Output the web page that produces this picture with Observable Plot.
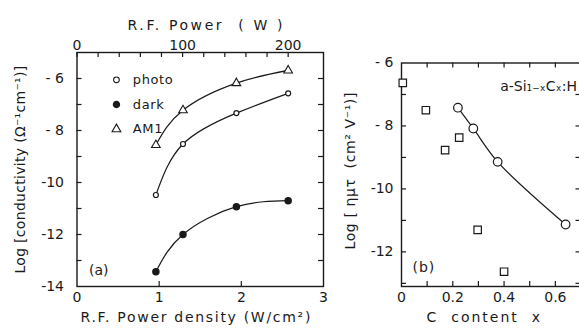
<!DOCTYPE html>
<html>
<head>
<meta charset="utf-8">
<script src="https://cdn.jsdelivr.net/npm/d3@7"></script>
<script src="https://cdn.jsdelivr.net/npm/@observablehq/plot@0.6"></script>
<style>
  html, body { margin: 0; padding: 0; background: #fff; overflow: hidden; }
  #wrap { position: relative; width: 579px; height: 331px; overflow: hidden; }
  #wrap svg { position: absolute; top: 0; }
  #panelA svg { left: 0; }
  #panelB svg { left: 335px; }
</style>
</head>
<body>
<div id="wrap"><div id="panelA"></div><div id="panelB"></div></div>
<script>
// ---- Panel (a): conductivity vs R.F. power density ----
const powerDensity = [0.96, 1.29, 1.94, 2.57];           // W/cm^2
const logPhoto = [-10.48, -8.52, -7.33, -6.57];
const logDark  = [-13.43, -12.0, -10.93, -10.7];
const logAM1   = [-8.56, -7.22, -6.18, -5.69];
const seriesNames = ["photo", "dark", "AM1"];

// top axis: R.F. power in watts (200 W corresponds to 2.57 W/cm^2)
const densityPerWatt = 2.57 / 200;
const powerTicks = [0, 20, 40, 60, 80, 100, 120, 140, 160, 180, 200];
const powerLabels = [0, 100, 200];
const densityTicks = [1, 2];
const densityLabels = [0, 1, 2, 3];
const condTicks = [-13, -12, -11, -10, -9, -8, -7, -6];
const condLabels = [-14, -12, -10, -8, -6];

// ---- Panel (b): log(eta mu tau) vs C content ----
const cContentLine = [0.22, 0.28, 0.375, 0.64];
const logEtaMuTauLine = [-7.42, -8.08, -9.14, -11.13];
const cContentSq = [0.005, 0.095, 0.17, 0.225, 0.297, 0.40];
const logEtaMuTauSq = [-6.63, -7.5, -8.77, -8.37, -11.3, -12.63];
const cTicks = [0.1, 0.2, 0.3, 0.4, 0.5, 0.6];
const cLabels = [0, 0.2, 0.4, 0.6];
const mtTicks = [-13, -12, -11, -10, -9, -8, -7];
const mtLabels = [-12, -10, -8, -6];

// titles
const titlePower = "R.F. Power  ( W )";
const titleDensity = "R.F. Power density (W/cm²)";
const titleCond = "Log [conductivity (Ω⁻¹cm⁻¹)]";
const titleC = "C  content  x";
const titleMuTau = "Log [ ημτ  (cm² V⁻¹)]";
const alloyLabel = "a-Si₁₋ₓCₓ:H";

const FONT = "'DejaVu Sans', Verdana, sans-serif";
const INK = "#1a1a1a";
const TICK = 5;
const fmtLog = d => (d > -10 ? "- " + Math.abs(d) : String(d));
const fmtC = d => (d === 0 ? "0" : d.toFixed(1));

const rows = (xs, ys) => xs.map((x, i) => ({x, y: ys[i]}));

// Short inward-pointing ticks on each side of a frame
function innerTicks(frameW, frameH, {bottom = [], top = [], left = [], right = []}) {
  const s = {stroke: INK, strokeWidth: 1.2};
  return [
    Plot.tickX(bottom, {x: d => d, insetTop: frameH - TICK, ...s}),
    Plot.tickX(top, {x: d => d, insetBottom: frameH - TICK, ...s}),
    Plot.tickY(left, {y: d => d, insetRight: frameW - TICK, ...s}),
    Plot.tickY(right, {y: d => d, insetLeft: frameW - TICK, ...s})
  ];
}

// widen the tracking of selected text labels
function track(svg, spacing) {
  d3.select(svg).selectAll("text").each(function () {
    const s = spacing[this.textContent];
    if (s != null) this.style.letterSpacing = s;
  });
}

const photo = rows(powerDensity, logPhoto);
const dark = rows(powerDensity, logDark);
const am1 = rows(powerDensity, logAM1);

const legendRows = [
  {name: seriesNames[0], y: -6.05, sym: "circle", fill: "white", r: 2.3},
  {name: seriesNames[1], y: -7.0, sym: "circle", fill: INK, r: 2.8},
  {name: seriesNames[2], y: -7.95, sym: "triangle", fill: "white", r: 3}
];

const A = {width: 335, height: 331, marginLeft: 76.5, marginRight: 12, marginTop: 52, marginBottom: 45};
const aW = A.width - A.marginLeft - A.marginRight;
const aH = A.height - A.marginTop - A.marginBottom;

const plotA = Plot.plot({
  ...A,
  style: {fontFamily: FONT, fontSize: "13px", background: "transparent", color: INK},
  x: {domain: [0, 3]},
  y: {domain: [-14, -5]},
  marks: [
    Plot.frame({stroke: INK, strokeWidth: 1.4}),
    ...innerTicks(aW, aH, {
      bottom: densityTicks,
      top: powerTicks.map(w => w * densityPerWatt),
      left: condTicks,
      right: condTicks
    }),
    Plot.axisX(densityLabels, {anchor: "bottom", tickSize: 0, tickPadding: 6, label: null, fontSize: 14}),
    Plot.axisX(powerLabels.map(w => w * densityPerWatt), {anchor: "top", tickSize: 0, tickPadding: 3, label: null, fontSize: 14,
      tickFormat: d => String(Math.round(d / densityPerWatt))}),
    Plot.axisY(condLabels, {anchor: "left", tickSize: 0, tickPadding: 13, label: null, fontSize: 14, tickFormat: fmtLog}),
    // curves
    Plot.line(photo, {x: "x", y: "y", curve: "natural", stroke: INK, strokeWidth: 1.2}),
    Plot.line(dark, {x: "x", y: "y", curve: "natural", stroke: INK, strokeWidth: 1.2}),
    Plot.line(am1, {x: "x", y: "y", curve: "natural", stroke: INK, strokeWidth: 1.2}),
    Plot.dot(photo, {x: "x", y: "y", r: 2.5, fill: "white", stroke: INK, strokeWidth: 1.2}),
    Plot.dot(dark, {x: "x", y: "y", r: 3, fill: INK, stroke: INK}),
    Plot.dot(am1, {x: "x", y: "y", symbol: "triangle", r: 3.2, fill: "white", stroke: INK, strokeWidth: 1.1}),
    // legend
    Plot.dot(legendRows, {x: 0.48, y: "y", symbol: "sym", r: "r", fill: "fill", stroke: INK, strokeWidth: 1.1}),
    Plot.text(legendRows, {x: 0.68, y: "y", text: "name", textAnchor: "start", fontSize: 13}),
    // panel tag
    Plot.text(["(a)"], {frameAnchor: "bottom-left", dx: 12, dy: -12, fontSize: 14, textAnchor: "start"}),
    // axis titles
    Plot.text([titlePower], {frameAnchor: "top", textAnchor: "middle", dx: 6, dy: -32, fontSize: 14}),
    Plot.text([titleDensity], {frameAnchor: "bottom", textAnchor: "middle", dx: -4, dy: 35, fontSize: 14}),
    Plot.text([titleCond], {frameAnchor: "left", textAnchor: "middle", dx: -56, dy: 0, rotate: -90, fontSize: 14})
  ]
});
track(plotA, {
  [titlePower]: "2.6px",
  [titleDensity]: "1.7px",
  [titleCond]: "0.3px",
  photo: "0.6px", dark: "0.6px", AM1: "0.6px"
});
document.getElementById("panelA").appendChild(plotA);

const lineB = rows(cContentLine, logEtaMuTauLine);
const squaresB = rows(cContentSq, logEtaMuTauSq);

const B = {width: 247, height: 331, marginLeft: 66, marginRight: 1.5, marginTop: 62.5, marginBottom: 45};
const bW = B.width - B.marginLeft - B.marginRight;
const bH = B.height - B.marginTop - B.marginBottom;

const plotB = Plot.plot({
  ...B,
  style: {fontFamily: FONT, fontSize: "13px", background: "transparent", color: INK},
  x: {domain: [0, 0.7]},
  y: {domain: [-13.1, -6]},
  marks: [
    Plot.frame({stroke: INK, strokeWidth: 1.4}),
    ...innerTicks(bW, bH, {bottom: cTicks, top: cTicks, left: mtTicks, right: mtTicks}),
    Plot.axisX(cLabels, {anchor: "bottom", tickSize: 0, tickPadding: 6, label: null, fontSize: 14, tickFormat: fmtC}),
    Plot.axisY(mtLabels, {anchor: "left", tickSize: 0, tickPadding: 8, label: null, fontSize: 14, tickFormat: fmtLog}),
    Plot.line(lineB, {x: "x", y: "y", curve: "catmull-rom", stroke: INK, strokeWidth: 1.2}),
    Plot.dot(lineB, {x: "x", y: "y", r: 4.3, fill: "white", stroke: INK, strokeWidth: 1.2}),
    Plot.dot(squaresB, {x: "x", y: "y", symbol: "square", r: 4.2, fill: "white", stroke: INK, strokeWidth: 1.2}),
    Plot.text(["(b)"], {frameAnchor: "bottom-left", dx: 11, dy: -15, fontSize: 14, textAnchor: "start"}),
    Plot.text([alloyLabel], {frameAnchor: "top-right", dx: -4, dy: 18, fontSize: 14, textAnchor: "end"}),
    Plot.text([titleC], {frameAnchor: "bottom", textAnchor: "middle", dx: -7, dy: 35, fontSize: 14}),
    Plot.text([titleMuTau], {frameAnchor: "left", textAnchor: "middle", dx: -51, dy: -4, rotate: -90, fontSize: 14})
  ]
});
track(plotB, {
  [titleC]: "2px",
  [titleMuTau]: "0.6px",
  "(b)": "1px"
});
document.getElementById("panelB").appendChild(plotB);
</script>
</body>
</html>
